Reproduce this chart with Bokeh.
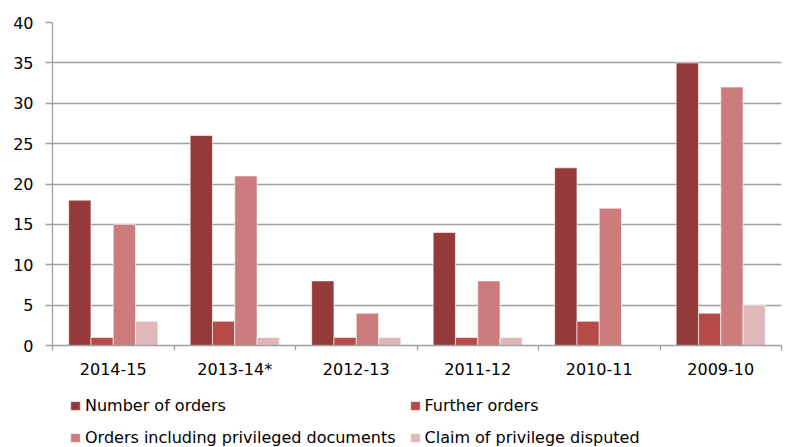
from bokeh.plotting import figure
from bokeh.layouts import column
from bokeh.models import FixedTicker, Legend, LegendItem, Range1d, ColumnDataSource
from bokeh.transform import dodge
from bokeh.embed import file_html
from bokeh.resources import INLINE

years = ["2014-15", "2013-14*", "2012-13", "2011-12", "2010-11", "2009-10"]
number_of_orders = [18, 26, 8, 14, 22, 35]
further_orders = [1, 3, 1, 1, 3, 4]
privileged_orders = [15, 21, 4, 8, 17, 32]
claim_disputed = [3, 1, 1, 1, 0, 5]
series_names = ["Number of orders", "Further orders",
                "Orders including privileged documents", "Claim of privilege disputed"]
series_keys = ["number", "further", "privileged", "claim"]
colors = ["#953A3A", "#B54A48", "#CC7C7C", "#E1B8B8"]

xs = [i + 0.5 for i in range(len(years))]
src = ColumnDataSource(dict(x=xs, number=number_of_orders, further=further_orders,
                            privileged=privileged_orders, claim=claim_disputed))

FONT = "DejaVu Sans"
GRID = "#A0A0A0"

p = figure(width=787, height=385, x_range=Range1d(0, len(years)), y_range=Range1d(0, 40),
           output_backend="svg", toolbar_location=None,
           min_border_top=22, min_border_left=52, min_border_right=6, min_border_bottom=40)
p.outline_line_color = None
p.background_fill_color = "white"

w = 0.1835
offsets = [-1.5 * w, -0.5 * w, 0.5 * w, 1.5 * w]
for key, col, off in zip(series_keys, colors, offsets):
    p.vbar(x=dodge("x", off, range=p.x_range), top=key, width=w, source=src,
           fill_color=col, line_color="white", line_width=0.6)

p.xgrid.grid_line_color = None
p.ygrid.grid_line_color = GRID
p.ygrid.grid_line_width = 1.3

# x axis
xa = p.xaxis[0]
xa.ticker = FixedTicker(ticks=xs, minor_ticks=list(range(len(years) + 1)))
xa.major_label_overrides = {x: y for x, y in zip(xs, years)}
xa.major_tick_line_color = None
xa.major_tick_out = 0
xa.major_tick_in = 0
xa.minor_tick_line_color = GRID
xa.minor_tick_out = 5
xa.minor_tick_in = 0
xa.minor_tick_line_width = 1.3
xa.axis_line_color = GRID
xa.axis_line_width = 1.3
xa.major_label_standoff = 9
xa.major_label_text_font = FONT
xa.major_label_text_font_size = "16px"
xa.major_label_text_color = "black"

# y axis
ya = p.yaxis[0]
ya.ticker = FixedTicker(ticks=list(range(0, 41, 5)))
ya.major_tick_line_color = GRID
ya.major_tick_out = 7
ya.major_tick_in = 0
ya.major_tick_line_width = 1.3
ya.minor_tick_line_color = None
ya.axis_line_color = GRID
ya.axis_line_width = 1.3
ya.major_label_standoff = 12
ya.major_label_text_font = FONT
ya.major_label_text_font_size = "16px"
ya.major_label_text_color = "black"

# legend strip (separate figure so the legend is not clipped by the chart frame);
# its renderers use the same data but a y range that keeps the bars out of view
lg = figure(width=787, height=62, x_range=Range1d(0, len(years)), y_range=Range1d(100, 101),
            output_backend="svg", toolbar_location=None,
            x_axis_location=None, y_axis_location=None,
            min_border=0, min_border_left=0, min_border_right=0,
            min_border_top=0, min_border_bottom=0)
lg.outline_line_color = None
lg.xgrid.grid_line_color = None
lg.ygrid.grid_line_color = None
items = []
for key, name, col, off in zip(series_keys, series_names, colors, offsets):
    r = lg.vbar(x=dodge("x", off, range=lg.x_range), top=key, width=w, source=src,
                fill_color=col, line_color="white", line_width=0.6)
    items.append(LegendItem(label=name, renderers=[r]))

legend = Legend(items=items, orientation="horizontal", ncols=2, location=(17, 0),
                label_text_font=FONT, label_text_font_size="16px",
                label_text_color="black",
                glyph_width=12, glyph_height=11, label_standoff=4, label_height=19,
                spacing=13, padding=0, margin=0,
                border_line_color=None, background_fill_alpha=0)
lg.add_layout(legend, "center")

layout = column(p, lg, spacing=0)
open("out.html", "w").write(file_html(layout, INLINE))
